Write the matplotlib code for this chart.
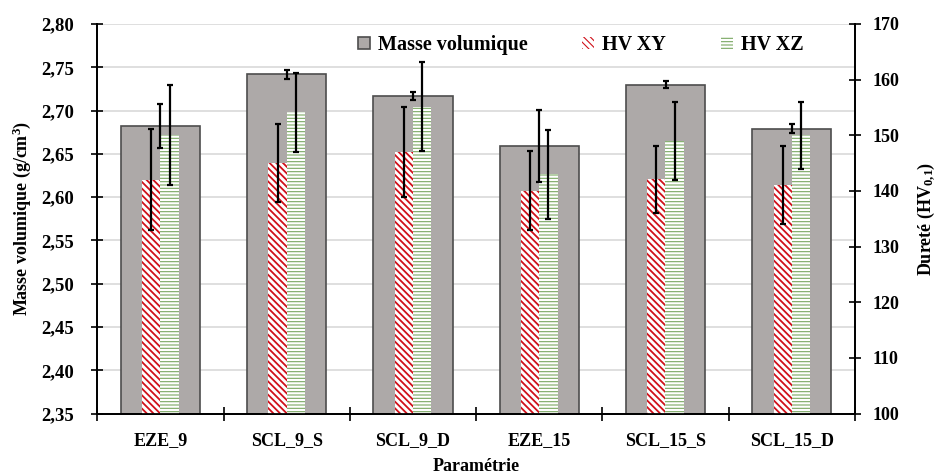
import matplotlib
matplotlib.use('Agg')
import matplotlib.pyplot as plt
import numpy as np

# samples
params = ['EZE_9', 'SCL_9_S', 'SCL_9_D', 'EZE_15', 'SCL_15_S', 'SCL_15_D']

# density (g/cm3) and std
masse = [2.682, 2.742, 2.717, 2.659, 2.730, 2.679]
masse_err = [0.025, 0.005, 0.0046, 0.042, 0.0044, 0.0054]

# hardness HV0.1, XY and XZ planes
hv_xy = [142.0, 145.1, 147.0, 140.0, 142.1, 141.1]
hv_xy_err = [9.1, 7.0, 8.1, 7.1, 6.0, 7.0]
hv_xz = [150.0, 154.1, 155.1, 143.0, 149.0, 150.0]
hv_xz_err = [9.0, 7.1, 8.0, 8.0, 7.0, 6.0]

plt.rcParams['font.family'] = 'Liberation Serif'
plt.rcParams['font.weight'] = 'bold'
plt.rcParams['axes.labelweight'] = 'bold'
plt.rcParams['mathtext.fontset'] = 'custom'
plt.rcParams['mathtext.rm'] = 'Liberation Serif:bold'
plt.rcParams['mathtext.bf'] = 'Liberation Serif:bold'
plt.rcParams['mathtext.default'] = 'bf'

fig = plt.figure(figsize=(9.41, 4.74), dpi=100)
ax1 = fig.add_axes([0.1034, 0.1276, 0.8052, 0.8218])
ax2 = ax1.twinx()
ax3 = ax1.twinx()  # overlay for density error bars

x = np.arange(1, len(params) + 1)
w_big = 0.626
w_small = 0.146

ax1.bar(x, np.array(masse) - 2.35, bottom=2.35, width=w_big, color='#ada9a8',
        edgecolor='#4d4d4d', linewidth=1.2, label='Masse volumique', zorder=2)

plt.rcParams['hatch.linewidth'] = 1.3
b_xy = ax2.bar(x - 0.072, np.array(hv_xy) - 100, bottom=100, width=w_small,
               color='white', edgecolor='#d0101a', linewidth=0,
               hatch='\\' * 5, label='HV XY', zorder=2)
plt.rcParams['hatch.linewidth'] = 0.8
b_xz = ax2.bar(x + 0.072, np.array(hv_xz) - 100, bottom=100, width=w_small,
               color='white', edgecolor='#7aa862', linewidth=0,
               hatch='-' * 5, label='HV XZ', zorder=2)

ekw = dict(fmt='none', ecolor='black', elinewidth=1.6, capsize=2.5, capthick=1.6, zorder=4)
ax2.errorbar(x - 0.072, hv_xy, yerr=hv_xy_err, **ekw)
ax2.errorbar(x + 0.072, hv_xz, yerr=hv_xz_err, **ekw)
ax3.errorbar(x, masse, yerr=masse_err, **ekw)

ax1.set_xlim(0.5, len(params) + 0.5)
ax1.set_ylim(2.35, 2.80)
ax2.set_ylim(100, 170)
ax3.set_ylim(2.35, 2.80)
ax3.axis('off')

ax1.set_yticks(np.arange(2.35, 2.801, 0.05))
ax1.set_yticklabels([('%.2f' % v).replace('.', ',') for v in np.arange(2.35, 2.801, 0.05)])
ax2.set_yticks(np.arange(100, 171, 10))

ax1.set_xticks(np.arange(0.5, len(params) + 1, 1.0))
ax1.set_xticklabels([])
ax1.set_xticks(x, minor=True)
ax1.set_xticklabels(params, minor=True)
ax1.tick_params(axis='x', which='minor', length=0, pad=13, labelsize=13)
ax1.tick_params(axis='x', which='major', direction='inout', length=10, width=1.2)
ax1.tick_params(axis='y', direction='inout', length=9, width=1.2, labelsize=13.5, pad=12)
ax2.tick_params(axis='y', direction='inout', length=9, width=1.2, labelsize=13, pad=8)

ax1.grid(axis='y', color='#d9d9d9', linewidth=1.2)
ax1.set_axisbelow(True)

for ax in (ax1, ax2):
    ax.spines['top'].set_visible(False)
    for s in ('left', 'right', 'bottom'):
        ax.spines[s].set_linewidth(1.3)

ax1.set_xlabel('Paramétrie', fontsize=13, labelpad=7)
ax1.set_ylabel('Masse volumique (g/cm$^{3}$)', fontsize=13, labelpad=6)
ax2.set_ylabel('Dureté (HV$_{0{,}1}$)', fontsize=13, labelpad=12)

h1, l1 = ax1.get_legend_handles_labels()
h2, l2 = ax2.get_legend_handles_labels()
ax3.legend(h1 + h2, l1 + l2, loc='center', bbox_to_anchor=(0.638, 0.946), ncol=3,
           frameon=False, fontsize=14.5, handlelength=0.6, handleheight=0.6,
           handletextpad=0.4, columnspacing=2.7)

fig.savefig('out.png', dpi=100)
